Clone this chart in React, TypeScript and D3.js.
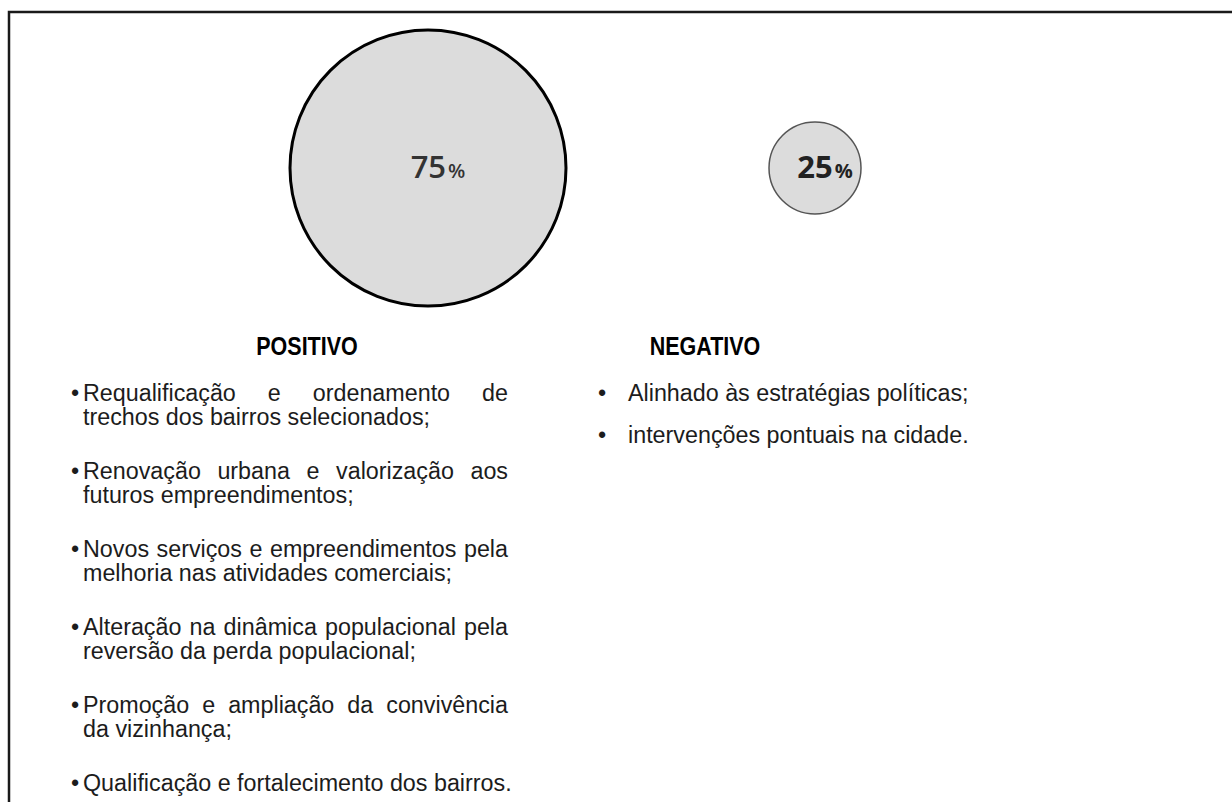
import * as d3 from 'd3';
import React, { useMemo } from 'react';

const WIDTH = 1232;
const HEIGHT = 802;

const categories = ['POSITIVO', 'NEGATIVO'];
const shares = [75, 25];

// items keep the line breaks of the original document
const positiveItems = [
  ['Requalificação e ordenamento de', 'trechos dos bairros selecionados;'],
  ['Renovação urbana e valorização aos', 'futuros empreendimentos;'],
  ['Novos serviços e empreendimentos pela', 'melhoria nas atividades comerciais;'],
  ['Alteração na dinâmica populacional pela', 'reversão da perda populacional;'],
  ['Promoção e ampliação da convivência', 'da vizinhança;'],
  ['Qualificação e fortalecimento dos bairros.'],
];
const negativeItems = [['Alinhado às estratégias políticas;'], ['intervenções pontuais na cidade.']];

const FONT = '"Liberation Sans", Arial, sans-serif';
const BODY_SIZE = 23.3;

let ctx: CanvasRenderingContext2D | null = null;
function measure(text: string, size: number) {
  if (!ctx) ctx = document.createElement('canvas').getContext('2d');
  ctx!.font = `${size}px ${FONT}`;
  return ctx!.measureText(text).width;
}

type ListProps = {
  items: string[][];
  bulletX: number;
  textX: number;
  right: number;
  top: number;
  lineStep: number;
  itemStep: number;
  justify: boolean;
};

function BulletList({ items, bulletX, textX, right, top, lineStep, itemStep, justify }: ListProps) {
  const colWidth = right - textX;
  return (
    <g fontFamily={FONT} fontSize={BODY_SIZE} fill="#1c1c1c">
      {items.map((lines, i) => {
        const y0 = top + i * itemStep;
        return (
          <g key={i}>
            <text x={bulletX} y={y0} textAnchor="middle">
              •
            </text>
            {lines.map((line, j) => {
              const y = y0 + j * lineStep;
              const isJustified = justify && j < lines.length - 1;
              if (!isJustified) {
                return (
                  <text key={j} x={textX} y={y}>
                    {line}
                  </text>
                );
              }
              // justified line: spread the words over the column
              const words = line.split(' ');
              const widths = words.map(w => measure(w, BODY_SIZE));
              const gap = (colWidth - d3.sum(widths)) / (words.length - 1);
              let x = textX;
              return (
                <g key={j}>
                  {words.map((w, k) => {
                    const wx = x;
                    x += widths[k] + gap;
                    return (
                      <text key={k} x={wx} y={y}>
                        {w}
                      </text>
                    );
                  })}
                </g>
              );
            })}
          </g>
        );
      })}
    </g>
  );
}

export default function App() {
  const circleX = useMemo(() => d3.scalePoint<string>().domain(categories).range([428, 815]), []);
  const labelX = useMemo(() => d3.scalePoint<string>().domain(categories).range([307, 705]), []);
  const radius = useMemo(() => d3.scaleLinear().domain([0, 75]).range([0, 138]), []);
  const cy = 168;

  return (
    <svg
      width={WIDTH}
      height={HEIGHT}
      style={{ position: 'absolute', left: 0, top: 0, background: '#fff' }}
    >
      <path d={`M9,${HEIGHT} V12 H${WIDTH}`} fill="none" stroke="#1a1a1a" strokeWidth={2.5} />

      {categories.map((c, i) => {
        const cx = circleX(c)!;
        const big = i === 0;
        return (
          <g key={c}>
            <circle
              cx={cx}
              cy={cy}
              r={radius(shares[i])}
              fill="#dcdcdc"
              stroke={big ? '#000' : '#555'}
              strokeWidth={big ? 3 : 1.5}
            />
            <text
              x={cx + 10}
              y={cy + 10}
              textAnchor="middle"
              fontFamily='"Open Sans", sans-serif'
              fontWeight={big ? 600 : 700}
              fontSize={31}
              fill={big ? '#333' : '#222'}
            >
              {shares[i]}
              <tspan fontSize={20} dx={2}>%</tspan>
            </text>
            <text
              transform={`translate(${labelX(c)},355) scale(0.86,1)`}
              textAnchor="middle"
              fontFamily={FONT}
              fontWeight="bold"
              fontSize={25}
              fill="#000"
            >
              {c}
            </text>
          </g>
        );
      })}

      <BulletList
        items={positiveItems}
        bulletX={75}
        textX={83}
        right={508}
        top={401}
        lineStep={24}
        itemStep={78}
        justify
      />
      <BulletList
        items={negativeItems}
        bulletX={602}
        textX={628}
        right={1100}
        top={401}
        lineStep={24}
        itemStep={42}
        justify={false}
      />
    </svg>
  );
}
